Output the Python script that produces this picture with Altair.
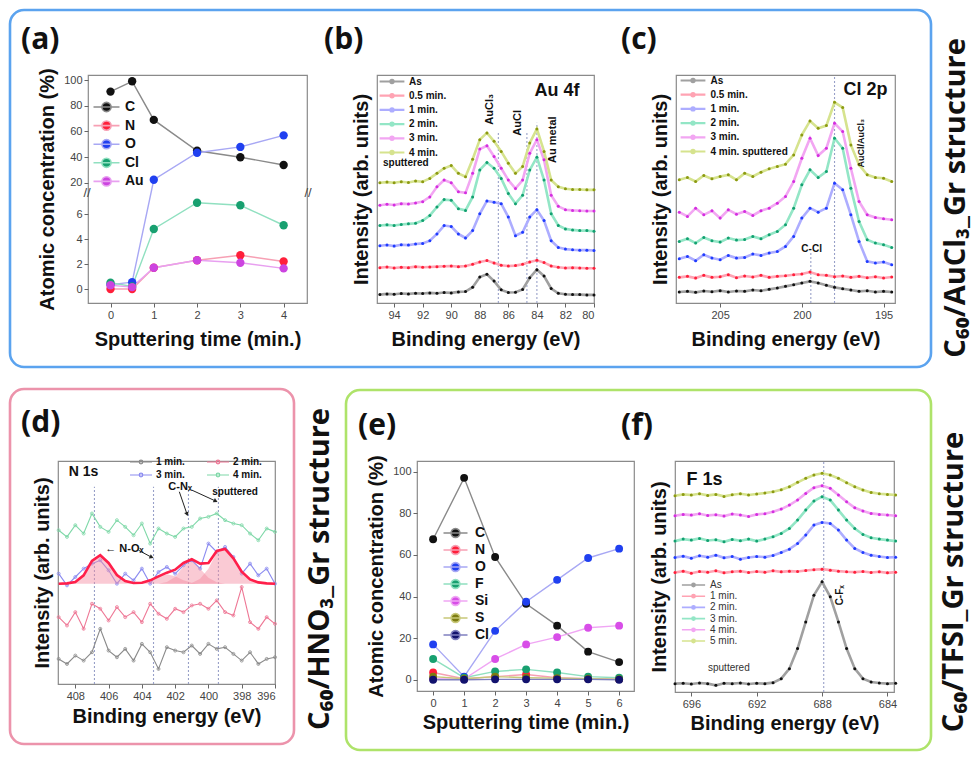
import altair as alt
import pandas as pd

FONT = "Liberation Sans"
SFONT = "Open Sans"

# ---------------- (a) C60/AuCl3 composition ----------------
A_TIME = [0, 0.5, 1, 2, 3, 4]
A_ELEM = ["C", "N", "O", "Cl", "Au"]
A_C = [91, 99, 69, 45, 40, 34]
A_N = [0.0, 0.0, 1.7, 2.3, 2.7, 2.2]
A_O = [0.35, 0.55, 22.5, 43.5, 48, 57]
A_CL = [0.5, 0.2, 4.8, 6.9, 6.7, 5.1]
A_AU = [0.3, 0.15, 1.7, 2.3, 2.1, 1.65]
A_DOT = ["#111111", "#ff1f3a", "#2040f0", "#18a070", "#cc44e0"]
A_LINE = ["#8a8a8a", "#f7a0b4", "#a8a8f4", "#90e0c0", "#e8a0f0"]

# ---------------- (b) Au 4f ----------------
B_X = [95.0, 94.5, 94.0, 93.5, 93.0, 92.5, 92.0, 91.5, 91.0, 90.5, 90.0, 89.5, 89.0, 88.5, 88.0, 87.5,
       87.0, 86.5, 86.0, 85.5, 85.0, 84.5, 84.0, 83.5, 83.0, 82.5, 82.0, 81.5, 81.0, 80.5, 80.0]
B_NAMES = ["As", "0.5 min.", "1 min.", "2 min.", "3 min.", "4 min."]
B_AS = [25, 27, 26, 28, 27, 29, 28, 30, 29, 31, 30, 33, 34, 47, 77, 85, 65, 39, 31, 32, 40, 75, 99, 80, 43, 29, 26, 25, 25, 24, 24]
B_05 = [105, 107, 104, 106, 105, 108, 106, 107, 108, 109, 110, 108, 110, 115, 122, 126, 119, 112, 110, 111, 115, 122, 127, 120, 110, 106, 104, 105, 104, 103, 103]
B_1 = [170, 172, 169, 173, 172, 175, 177, 185, 205, 230, 227, 205, 193, 215, 265, 303, 299, 295, 255, 200, 210, 255, 277, 245, 185, 165, 160, 158, 157, 157, 156]
B_2 = [230, 232, 230, 233, 235, 237, 245, 260, 285, 307, 305, 280, 275, 315, 395, 417, 400, 370, 325, 295, 320, 395, 433, 365, 265, 230, 220, 217, 215, 215, 213]
B_3 = [290, 293, 291, 295, 294, 297, 301, 315, 345, 365, 357, 330, 327, 385, 457, 467, 435, 400, 365, 340, 365, 445, 485, 425, 320, 287, 277, 275, 274, 273, 273]
B_4 = [357, 359, 357, 360, 358, 362, 360, 370, 385, 400, 408, 385, 375, 427, 485, 505, 480, 450, 415, 385, 405, 475, 517, 450, 365, 345, 339, 337, 337, 336, 336]

# ---------------- (c) Cl 2p ----------------
C_X = [207.5, 207.0, 206.5, 206.0, 205.5, 205.0, 204.5, 204.0, 203.5, 203.0, 202.5, 202.0, 201.5, 201.0,
       200.5, 200.0, 199.5, 199.0, 198.5, 198.0, 197.5, 197.0, 196.5, 196.0, 195.5, 195.0, 194.5]
C_NAMES = ["As", "0.5 min.", "1 min.", "2 min.", "3 min.", "4 min. sputtered"]
C_AS = [33, 35, 32, 36, 34, 37, 33, 36, 35, 39, 37, 41, 45, 50, 55, 60, 65, 60, 53, 47, 43, 39, 35, 37, 33, 35, 33]
C_05 = [77, 80, 75, 83, 77, 79, 85, 76, 81, 78, 83, 77, 80, 82, 85, 87, 93, 85, 83, 79, 81, 77, 80, 76, 79, 75, 78]
C_1 = [133, 140, 127, 145, 135, 130, 143, 135, 137, 147, 143, 150, 155, 170, 200, 255, 285, 273, 285, 360, 340, 265, 185, 125, 120, 123, 115]
C_2 = [185, 193, 180, 197, 187, 183, 195, 189, 191, 200, 193, 205, 215, 235, 285, 355, 400, 377, 395, 495, 465, 345, 245, 190, 180, 175, 167]
C_3 = [273, 260, 285, 265, 277, 255, 280, 267, 275, 263, 277, 285, 300, 320, 365, 435, 495, 443, 465, 540, 515, 405, 305, 265, 257, 253, 250]
C_4 = [370, 377, 365, 383, 373, 380, 385, 370, 390, 380, 393, 403, 410, 417, 445, 505, 547, 525, 533, 603, 587, 475, 415, 385, 377, 375, 365]

SPEC_DOT = ["#111111", "#ff1f3a", "#1f3cff", "#12a070", "#d42ee0", "#8c9a12"]
SPEC_LINE = ["#a0a0a0", "#ffa3b3", "#adadff", "#93e6c6", "#f2a6f2", "#d6e38e"]

# ---------------- (d) N 1s ----------------
D_X = [409.0, 408.5, 408.0, 407.5, 407.0, 406.5, 406.0, 405.5, 405.0, 404.5, 404.0, 403.5, 403.0, 402.5,
       402.0, 401.5, 401.0, 400.5, 400.0, 399.5, 399.0, 398.5, 398.0, 397.5, 397.0, 396.5, 396.0]
D_NAMES = ["1 min.", "2 min.", "3 min.", "4 min."]
D_1 = [75, 60, 85, 70, 95, 165, 100, 80, 105, 70, 120, 95, 45, 110, 100, 95, 115, 90, 120, 105, 110, 90, 70, 95, 60, 75, 80]
D_2 = [200, 175, 215, 165, 240, 225, 190, 230, 200, 215, 185, 240, 210, 195, 225, 215, 235, 240, 225, 250, 215, 205, 290, 185, 165, 200, 180]
D_3 = [330, 295, 320, 345, 360, 370, 340, 300, 330, 310, 345, 300, 335, 350, 330, 355, 370, 345, 420, 395, 410, 380, 330, 360, 325, 345, 300]
D_4 = [460, 440, 475, 450, 510, 470, 455, 490, 470, 445, 480, 420, 465, 450, 440, 465, 470, 495, 500, 510, 490, 480, 475, 450, 430, 465, 455]
D_COL = ["#8a8a8a", "#ee7795", "#8c8cf0", "#7fd8a8"]
D_FIT = [300, 301, 305, 325, 368, 385, 362, 326, 308, 302, 303, 310, 322, 333, 342, 362, 373, 360, 362, 398, 404, 376, 336, 313, 304, 301, 300]
D_P1 = [300, 301, 305, 325, 368, 385, 362, 326, 308, 302, 300, 300, 300, 300, 300, 300, 300, 300, 300, 300, 300, 300, 300, 300, 300, 300, 300]
D_P2 = [300, 300, 300, 300, 300, 300, 300, 300, 300, 300, 301, 308, 320, 328, 322, 310, 303, 300, 300, 300, 300, 300, 300, 300, 300, 300, 300]
D_P3 = [300, 300, 300, 300, 300, 300, 300, 300, 300, 300, 300, 300, 300, 305, 320, 352, 368, 345, 318, 304, 300, 300, 300, 300, 300, 300, 300]
D_P4 = [300, 300, 300, 300, 300, 300, 300, 300, 300, 300, 300, 300, 300, 300, 300, 300, 302, 315, 345, 395, 402, 375, 335, 312, 303, 300, 300]
# annotation arrows in (d): start (eV, intensity), end (eV, intensity), head angle (deg)
D_ARROW_X0 = [404.2, 401.75, 401.0]
D_ARROW_Y0 = [400, 575, 580]
D_ARROW_X1 = [403.45, 401.3, 399.6]
D_ARROW_Y1 = [380, 510, 548]
D_ARROW_ANG = [115, 162, 117]

# ---------------- (e) C60/TFSI composition ----------------
E_TIME = [0, 1, 2, 3, 4, 5, 6]
E_ELEM = ["C", "N", "O", "F", "Si", "S", "Cl"]
E_C = [67.5, 97, 59, 36.5, 26, 13.5, 8.5]
E_N = [3.5, 0.5, 1.5, 2.5, 1.0, 0.5, 0.3]
E_O = [17, 1.5, 23.5, 37.5, 48, 58.5, 63]
E_F = [10, 1.0, 4.0, 5.0, 3.5, 1.5, 1.0]
E_SI = [0.5, 0.3, 10, 17, 20.5, 25, 26]
E_S = [1.5, 0.5, 1.5, 1.0, 0.8, 0.5, 0.3]
E_CL = [0.0, 0.0, 0.2, 0.2, 0.2, 0.2, 0.0]
E_DOT = ["#111111", "#ff1f3a", "#2040f0", "#18a070", "#d84ee8", "#7c7c10", "#12126e"]
E_LINE = ["#8a8a8a", "#f7a0b4", "#a8a8f4", "#90e0c0", "#f0a6f4", "#c8c878", "#8080c0"]

# ---------------- (f) F 1s ----------------
F_X = [697.0, 696.5, 696.0, 695.5, 695.0, 694.5, 694.0, 693.5, 693.0, 692.5, 692.0, 691.5, 691.0, 690.5,
       690.0, 689.5, 689.0, 688.5, 688.0, 687.5, 687.0, 686.5, 686.0, 685.5, 685.0, 684.5, 684.0, 683.5]
F_NAMES = ["As", "1 min.", "2 min.", "3 min.", "4 min.", "5 min."]
F_AS = [25, 26, 24, 27, 25, 20, 26, 25, 27, 24, 26, 25, 28, 40, 70, 130, 210, 290, 330, 285, 210, 130, 70, 40, 30, 27, 25, 26]
F_1 = [358, 362, 356, 361, 359, 363, 357, 360, 362, 358, 361, 359, 363, 360, 362, 361, 364, 366, 368, 365, 362, 360, 359, 361, 358, 360, 357, 359]
F_2 = [403, 407, 401, 408, 404, 410, 402, 406, 398, 403, 406, 404, 409, 418, 428, 445, 470, 500, 508, 505, 485, 455, 430, 418, 410, 406, 403, 404]
F_3 = [452, 458, 455, 460, 454, 456, 450, 457, 453, 458, 452, 458, 465, 475, 490, 515, 545, 572, 585, 575, 545, 515, 490, 472, 462, 458, 455, 452]
F_4 = [528, 532, 530, 534, 529, 531, 527, 533, 530, 526, 532, 534, 540, 548, 560, 575, 595, 612, 618, 610, 590, 570, 552, 542, 535, 532, 530, 528]
F_5 = [588, 592, 590, 594, 589, 592, 586, 591, 594, 590, 593, 596, 600, 606, 615, 628, 640, 650, 655, 650, 640, 627, 615, 605, 598, 594, 592, 590]


# ---------------- helpers ----------------
def long_df(xs, names, series):
    rows = []
    for name, ys in zip(names, series):
        for x, y in zip(xs, ys):
            rows.append({"x": x, "y": y, "k": name})
    return pd.DataFrame(rows)


def sym_path(half, r):
    return (f"M{-half},0L{half},0M{r},0A{r},{r},0,1,1,{-r},0A{r},{r},0,1,1,{r},0Z")


def legend(x, y, half, r, fsize, bold=True, offset=11, rowpad=2, sw=2.0,
           columns=None, colpad=None, color="#111111"):
    kw = dict(orient="none", legendX=x, legendY=y, title=None,
              symbolType=sym_path(half, r), symbolSize=64, symbolStrokeWidth=sw,
              labelFont=FONT, labelFontSize=fsize,
              labelFontWeight="bold" if bold else "normal", labelColor=color,
              labelOffset=offset, rowPadding=rowpad, padding=0)
    if columns:
        kw.update(columns=columns, columnPadding=colpad, direction="horizontal")
    return alt.Legend(**kw)


def ptext(text, x, y, size=10, bold=True, angle=0, align="left", baseline="middle",
          font=FONT, color="#111111"):
    return alt.Chart(pd.DataFrame({"t": [text]})).mark_text(
        fontSize=size, fontWeight="bold" if bold else "normal", angle=angle,
        align=align, baseline=baseline, font=font, color=color
    ).encode(x=alt.value(x), y=alt.value(y), text="t:N")


def dtext(X, Y, text, x, y, size=10, bold=True, angle=0, align="center",
          baseline="middle", color="#111111"):
    return alt.Chart(pd.DataFrame({"x": [x], "y": [y], "t": [text]})).mark_text(
        fontSize=size, fontWeight="bold" if bold else "normal", angle=angle,
        align=align, baseline=baseline, font=FONT, color=color
    ).encode(X, Y, text="t:N")


def vrules(X, Y, xs, y0s, y1s):
    df = pd.DataFrame({"x": xs, "y": y0s, "y2": y1s})
    return alt.Chart(df).mark_rule(strokeDash=[2, 2], color="#98a0c8", strokeWidth=1.1).encode(
        X, Y, y2="y2:Q")


def box(x0, y0, x1, y1, color):
    return alt.Chart(pd.DataFrame({"d": [0]})).mark_rect(
        fillOpacity=0, stroke=color, strokeWidth=2.6, cornerRadius=14
    ).encode(x=alt.value(x0), x2=alt.value(x1), y=alt.value(y0), y2=alt.value(y1))


def panel_label(text, x, y):
    return ptext(text, x, y, size=30, bold=True, baseline="alphabetic", font=SFONT)


def structure_label(text, x, y):
    return ptext(text, x, y, size=29, bold=True, angle=270, align="center", font=SFONT)


def spacer(w):
    return alt.Chart(pd.DataFrame({"d": [0]})).mark_point(opacity=0).encode(
        x=alt.value(0), y=alt.value(0)
    ).properties(width=w, height=10, view=alt.ViewBackground(stroke="transparent"))


def spectra_xy(xdom, ydom, xticks, tpad):
    X = alt.X("x:Q", scale=alt.Scale(domain=xdom, reverse=True, nice=False, zero=False),
              axis=alt.Axis(title="Binding energy (eV)", values=xticks, format="d",
                            titlePadding=tpad))
    Y = alt.Y("y:Q", scale=alt.Scale(domain=ydom, nice=False, zero=False),
              axis=alt.Axis(title="Intensity (arb. units)", labels=False, ticks=False,
                            titlePadding=6))
    return X, Y


def spectra_traces(df, X, Y, names, dots, lines, leg, dot_size=9, line_w=2.6):
    ln = alt.Chart(df).mark_line(strokeWidth=line_w).encode(
        X, Y, stroke=alt.Stroke("k:N", scale=alt.Scale(domain=names, range=lines), legend=leg))
    pt = alt.Chart(df).mark_circle(size=dot_size, opacity=1).encode(
        X, Y, fill=alt.Fill("k:N", scale=alt.Scale(domain=names, range=dots), legend=leg))
    return [ln, pt]


# ---------------- panel (a) ----------------
AW, AH = 219, 228
a_df = long_df(A_TIME, A_ELEM, [A_C, A_N, A_O, A_CL, A_AU])
AX = alt.X("x:Q", scale=alt.Scale(domain=[-0.52, 4.54], nice=False, zero=False),
           axis=alt.Axis(title="Sputtering time (min.)", values=[0, 1, 2, 3, 4], format="d",
                         titlePadding=9))
AY = alt.Y("y:Q", scale=alt.Scale(domain=[-1.12, 7.68, 12.2, 103.9], range=[AH, 118, 118, 0],
                                  nice=False, zero=False),
           axis=alt.Axis(title="Atomic concentration (%)", values=[0, 2, 4, 6, 20, 40, 60, 80, 100],
                         titlePadding=6))
a_leg = legend(11.5, 25, 3.25, 1.15, 14, bold=True, offset=11.5, rowpad=2.6, sw=1.6)
a_line = alt.Chart(a_df).mark_line(strokeWidth=1.4).encode(
    AX, AY, stroke=alt.Stroke("k:N", scale=alt.Scale(domain=A_ELEM, range=A_LINE), legend=a_leg))
a_pts = alt.Chart(a_df).mark_circle(size=70, opacity=1).encode(
    AX, AY, fill=alt.Fill("k:N", scale=alt.Scale(domain=A_ELEM, range=A_DOT), legend=a_leg))
panel_a = alt.layer(
    box(-78, -65, 843, 292, "#5ba3ef"),
    a_line, a_pts,
    ptext("//", -1, 118, size=13, bold=False, align="center", color="#444444"),
    ptext("//", AW + 1, 118, size=13, bold=False, align="center", color="#444444"),
    panel_label("(a)", -67, -26),
).properties(width=AW, height=AH)

# ---------------- panel (b) ----------------
BW, BH = 217, 228
b_df = long_df(B_X, B_NAMES, [B_AS, B_05, B_1, B_2, B_3, B_4])
BX, BY = spectra_xy([80, 95.2], [0, 677], [94, 92, 90, 88, 86, 84, 82, 80], 9)
b_leg = legend(9.5, 1, 3.1, 0.4, 10, bold=True, offset=11.5, rowpad=1.2, sw=2.2)
panel_b = alt.layer(
    vrules(BX, BY, [86.7, 84.7, 84.0], [0, 0, 0], [510, 510, 535]),
    *spectra_traces(b_df, BX, BY, B_NAMES, SPEC_DOT, SPEC_LINE, b_leg),
    dtext(BX, BY, "AuCl\u2083", 87.3, 575, size=11, angle=270),
    dtext(BX, BY, "AuCl", 85.35, 535, size=11, angle=270),
    dtext(BX, BY, "Au metal", 82.85, 485, size=11, angle=270),
    dtext(BX, BY, "Au 4f", 82.6, 630, size=18),
    ptext("sputtered", 6, 88, size=10),
    panel_label("(b)", -53, -26),
).properties(width=BW, height=BH)

# ---------------- panel (c) ----------------
CW, CH = 219, 228
c_df = long_df(C_X, C_NAMES, [C_AS, C_05, C_1, C_2, C_3, C_4])
CX, CY = spectra_xy([194.3, 207.7], [0, 685], [205, 200, 195], 9)
c_leg = legend(11.5, 0, 3.1, 0.4, 10, bold=True, offset=12, rowpad=1.2, sw=2.2)
panel_c = alt.layer(
    vrules(CX, CY, [199.45, 198.0], [0, 0], [150, 685]),
    *spectra_traces(c_df, CX, CY, C_NAMES, SPEC_DOT, SPEC_LINE, c_leg),
    dtext(CX, CY, "C-Cl", 199.4, 162, size=10),
    dtext(CX, CY, "AuCl/AuCl\u2083", 196.4, 480, size=9, angle=270),
    dtext(CX, CY, "Cl 2p", 196.1, 640, size=18),
    structure_label("C\u2086\u2080/AuCl\u2083_Gr structure", 280, 123),
    panel_label("(c)", -55, -26),
).properties(width=CW, height=CH)

# ---------------- panel (d) ----------------
DW, DH = 217, 223
d_df = long_df(D_X, D_NAMES, [D_1, D_2, D_3, D_4])
DX, DY = spectra_xy([396, 409.04], [0, 667], [408, 406, 404, 402, 400, 398, 396], 5)
d_leg = legend(78, -4, 2.75, 0.45, 10, bold=True, offset=10, rowpad=3, sw=1.2,
               columns=2, colpad=19)
d_fit = pd.DataFrame({"x": D_X, "y": D_FIT})
d_comp = long_df(D_X, ["p1", "p2", "p3", "p4"], [D_P1, D_P2, D_P3, D_P4])
d_comp["y2"] = 300
d_arrows = pd.DataFrame({"x": D_ARROW_X0, "y": D_ARROW_Y0, "x2": D_ARROW_X1,
                         "y2": D_ARROW_Y1, "a": D_ARROW_ANG})
d_heads = pd.DataFrame({"x": D_ARROW_X1, "y": D_ARROW_Y1, "a": D_ARROW_ANG})
panel_d = alt.layer(
    box(-48, -72, 236, 283, "#ec93ab"),
    vrules(DX, DY, [406.85, 403.3, 401.2, 399.4], [0, 0, 0, 0], [590, 590, 590, 590]),
    alt.Chart(d_df).mark_line(strokeWidth=1.1).encode(
        DX, DY, stroke=alt.Stroke("k:N", scale=alt.Scale(domain=D_NAMES, range=D_COL), legend=d_leg)),
    alt.Chart(d_df).mark_point(size=9, filled=False, strokeWidth=0.8, opacity=1).encode(
        DX, DY, stroke=alt.Stroke("k:N", scale=alt.Scale(domain=D_NAMES, range=D_COL), legend=d_leg)),
    alt.Chart(d_comp).mark_area(color="#f48aa0", opacity=0.45, line=False).encode(
        DX, DY, y2="y2:Q", detail="k:N"),
    alt.Chart(d_fit).mark_line(color="#ff1f4a", strokeWidth=2.6).encode(DX, DY),
    alt.Chart(d_arrows).mark_rule(color="#222222", strokeWidth=1).encode(
        DX, DY, x2="x2:Q", y2="y2:Q"),
    alt.Chart(d_heads).mark_point(shape="triangle", filled=True, size=22, color="#222222",
                                  opacity=1).encode(
        DX, DY, angle=alt.Angle("a:Q", scale=None)),
    dtext(DX, DY, "N 1s", 408.4, 635, size=14, align="left"),
    dtext(DX, DY, "\u2190 N-O\u2093", 406.2, 405, size=11, align="left"),
    dtext(DX, DY, "C-N\u2093", 401.7, 590, size=11),
    dtext(DX, DY, "sputtered", 398.4, 575, size=10),
    structure_label("C\u2086\u2080/HNO\u2083_Gr structure", 262, 108),
    panel_label("(d)", -37, -29),
).properties(width=DW, height=DH)

# ---------------- panel (e) ----------------
EW, EH = 217, 230
e_df = long_df(E_TIME, E_ELEM, [E_C, E_N, E_O, E_F, E_SI, E_S, E_CL])
EX = alt.X("x:Q", scale=alt.Scale(domain=[-0.52, 6.48], nice=False, zero=False),
           axis=alt.Axis(title="Sputtering time (min.)", values=[0, 1, 2, 3, 4, 5, 6], format="d",
                         titlePadding=4))
EY = alt.Y("y:Q", scale=alt.Scale(domain=[-5.4, 105.1], nice=False, zero=False),
           axis=alt.Axis(title="Atomic concentration (%)", values=[0, 20, 40, 60, 80, 100],
                         titlePadding=6))
e_leg = legend(31.5, 65, 3.0, 1.1, 14, bold=True, offset=12.5, rowpad=1.0, sw=1.6)
panel_e = alt.layer(
    box(-71, -71, 514, 289, "#aee36a"),
    alt.Chart(e_df).mark_line(strokeWidth=1.4).encode(
        EX, EY, stroke=alt.Stroke("k:N", scale=alt.Scale(domain=E_ELEM, range=E_LINE), legend=e_leg)),
    alt.Chart(e_df).mark_circle(size=62, opacity=1).encode(
        EX, EY, fill=alt.Fill("k:N", scale=alt.Scale(domain=E_ELEM, range=E_DOT), legend=e_leg)),
    panel_label("(e)", -59, -26),
).properties(width=EW, height=EH)

# ---------------- panel (f) ----------------
FW, FH = 219, 231
f_df = long_df(F_X, F_NAMES, [F_AS, F_1, F_2, F_3, F_4, F_5])
FX, FY = spectra_xy([683.6, 697], [0, 692], [696, 692, 688, 684], 4)
f_leg = legend(13.5, 119, 2.9, 0.4, 10, bold=False, offset=11.5, rowpad=1.2, sw=1.6,
               color="#333333")
panel_f = alt.layer(
    vrules(FX, FY, [687.9], [0], [692]),
    *spectra_traces(f_df, FX, FY, F_NAMES, SPEC_DOT, SPEC_LINE, f_leg),
    dtext(FX, FY, "C-F\u2093", 686.9, 290, size=10, angle=270),
    dtext(FX, FY, "F 1s", 696.3, 635, size=18, align="left"),
    ptext("sputtered", 33, 207, size=10, bold=False, color="#333333"),
    structure_label("C\u2086\u2080/TFSI_Gr structure", 279, 121),
    panel_label("(f)", -54, -26),
).properties(width=FW, height=FH)

IND = dict(x="independent", y="independent", fill="independent", stroke="independent")

# Rows are aligned on their first cell, so row 1 starts with a 1px spacer whose
# left edge coincides with panel (d); invisible spacers give the uneven gaps.
row1 = alt.hconcat(spacer(1), panel_a, spacer(12), panel_b, spacer(24), panel_c,
                   spacing=29, bounds="flush").resolve_scale(**IND)
row2 = alt.hconcat(panel_d, spacer(60), panel_e, panel_f,
                   spacing=41, bounds="flush").resolve_scale(**IND)

chart = alt.vconcat(row1, row2, spacing=18).resolve_scale(**IND).properties(
    padding=0, background="white"
).configure_view(
    stroke="#8a8a8a", strokeWidth=1.2
).configure_axis(
    labelFont=FONT, labelFontSize=11, labelColor="#444444",
    titleFont=FONT, titleFontSize=20, titleFontWeight="bold", titleColor="#111111",
    domain=False, tickColor="#666666", tickSize=4, grid=False, labelPadding=2
)

chart.save("out.html", embed_options={"renderer": "svg", "actions": False})
